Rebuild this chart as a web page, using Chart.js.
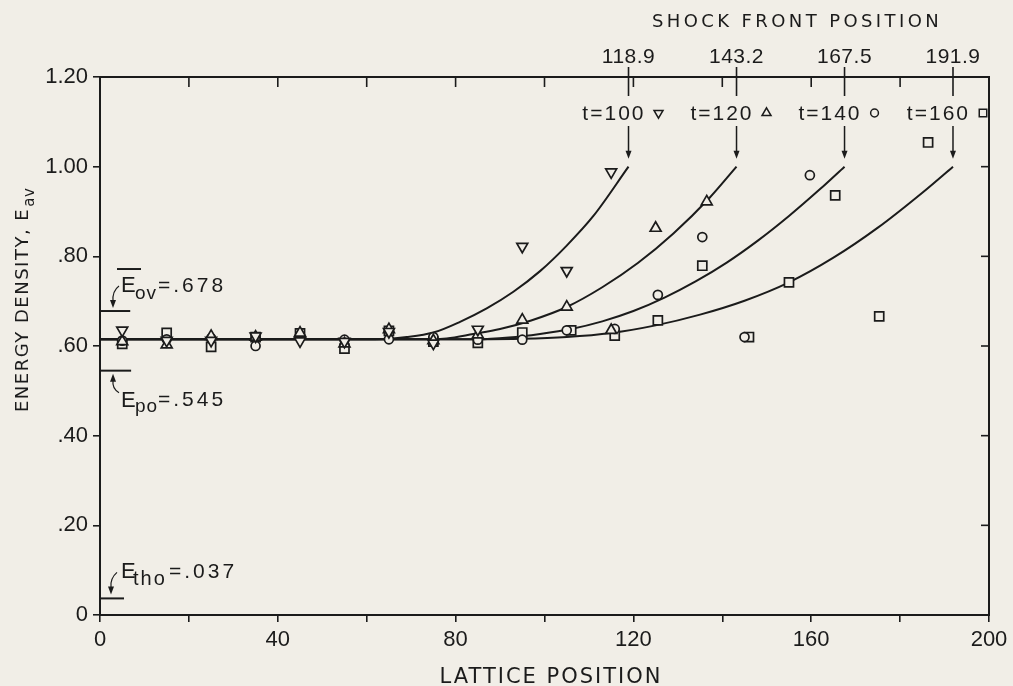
<!DOCTYPE html>
<html>
<head>
<meta charset="utf-8">
<script src="https://cdn.jsdelivr.net/npm/chart.js@4.4.1/dist/chart.umd.min.js"></script>
<style>
html,body{margin:0;padding:0;background:#f1eee7;overflow:hidden;}
canvas{display:block;}
</style>
</head>
<body>
<canvas id="chart" width="1013" height="686"></canvas>
<script>
// ---------------- data ----------------
// t = 100 (inverted triangles)
const t100X = [5, 15, 25, 35, 45, 55, 65, 75, 85, 95, 105, 115];
const t100Y = [0.635, 0.612, 0.612, 0.622, 0.611, 0.610, 0.632, 0.606, 0.637, 0.822, 0.768, 0.988];
// t = 120 (triangles)
const t120X = [5, 15, 25, 35, 45, 55, 65, 75, 85, 95, 105, 115, 125, 136.5];
const t120Y = [0.610, 0.603, 0.622, 0.620, 0.629, 0.605, 0.637, 0.612, 0.625, 0.658, 0.687, 0.635, 0.863, 0.922];
// t = 140 (circles)
const t140X = [5, 15, 25, 35, 45, 55, 65, 75, 85, 95, 105, 115.8, 125.5, 135.5, 145, 159.7];
const t140Y = [0.612, 0.615, 0.617, 0.600, 0.623, 0.614, 0.615, 0.620, 0.614, 0.614, 0.635, 0.638, 0.714, 0.843, 0.620, 0.981];
// t = 160 (squares)
const t160X = [5, 15, 25, 35, 45, 55, 65, 75, 85, 95, 106, 115.8, 125.5, 135.5, 146, 155, 165.4, 175.3, 186.3];
const t160Y = [0.605, 0.629, 0.598, 0.620, 0.628, 0.594, 0.634, 0.610, 0.607, 0.630, 0.635, 0.623, 0.657, 0.779, 0.620, 0.742, 0.936, 0.666, 1.054];

// fitted curves
const curve100X = [0, 62, 69, 75, 81, 87, 93, 99, 105, 111, 118.9];
const curve100Y = [0.615, 0.615, 0.620, 0.630, 0.654, 0.684, 0.721, 0.767, 0.824, 0.890, 1.00];
const curve120X = [0, 70, 78, 84, 90, 97, 105, 113, 121, 129, 137, 143.2];
const curve120Y = [0.615, 0.615, 0.617, 0.627, 0.638, 0.657, 0.687, 0.731, 0.785, 0.851, 0.929, 1.00];
const curve140X = [0, 78, 85, 92, 99, 106, 113, 120, 127, 134, 141, 148, 155, 162, 167.5];
const curve140Y = [0.615, 0.615, 0.615, 0.619, 0.627, 0.638, 0.655, 0.678, 0.708, 0.744, 0.786, 0.835, 0.890, 0.950, 1.00];
const curve160X = [0, 85, 95, 105, 115, 125, 135, 145, 155, 165, 175, 185, 191.9];
const curve160Y = [0.615, 0.615, 0.616, 0.620, 0.629, 0.646, 0.670, 0.701, 0.742, 0.797, 0.864, 0.942, 1.00];

const shockPositions = [118.9, 143.2, 167.5, 191.9];
const shockLabels = ['118.9', '143.2', '167.5', '191.9'];
const timeLabels = ['t=100', 't=120', 't=140', 't=160'];

const xTickValues = [0, 20, 40, 60, 80, 100, 120, 140, 160, 180, 200];
const xTickLabels = ['0', '', '40', '', '80', '', '120', '', '160', '', '200'];
const yTickValues = [0, 0.2, 0.4, 0.6, 0.8, 1.0, 1.2];
const yTickLabels = ['0', '.20', '.40', '.60', '.80', '1.00', '1.20'];

const refLevels = [0.678, 0.545, 0.037];
const refSubs = ['ov', 'po', 'tho'];
const refTexts = ['=.678', '=.545', '=.037'];

// ---------------- styling ----------------
const INK = '#1b1b1b';
const BG = '#f1eee7';
const NUM_FONT = 'Liberation Sans, Arial, sans-serif';
const CAP_FONT = 'DejaVu Sans, Verdana, sans-serif';

const pts = (xs, ys) => xs.map((v, i) => ({ x: v, y: ys[i] }));

function curveDs(xs, ys) {
  return {
    type: 'line', data: pts(xs, ys), showLine: true, borderColor: INK, borderWidth: 2,
    pointRadius: 0, cubicInterpolationMode: 'monotone', fill: false, order: 2
  };
}
function markerDs(label, xs, ys, style, radius, rot) {
  return {
    label, data: pts(xs, ys), showLine: false, pointStyle: style, pointRadius: radius,
    pointRotation: rot || 0, pointBorderColor: INK, pointBackgroundColor: BG,
    pointBorderWidth: 1.7, order: 1
  };
}

function drawMarker(ctx, style, x, y, r) {
  ctx.beginPath();
  if (style === 'tri' || style === 'itri') {
    const s = style === 'tri' ? -1 : 1;
    for (let k = 0; k < 3; k++) {
      const a = k * 2 * Math.PI / 3;
      const px = x + Math.sin(a) * r;
      const py = y + s * Math.cos(a) * r;
      if (k === 0) ctx.moveTo(px, py); else ctx.lineTo(px, py);
    }
    ctx.closePath();
  } else if (style === 'circ') {
    ctx.arc(x, y, r * 0.75, 0, Math.PI * 2);
  } else {
    const h = r * 0.72;
    ctx.rect(x - h, y - h, 2 * h, 2 * h);
  }
  ctx.fillStyle = BG; ctx.fill();
  ctx.lineWidth = 1.5; ctx.strokeStyle = INK; ctx.stroke();
}
function seg(ctx, x1, y1, x2, y2) { ctx.beginPath(); ctx.moveTo(x1, y1); ctx.lineTo(x2, y2); ctx.stroke(); }
function head(ctx, x, y, up) {
  const d = up ? 1 : -1;
  ctx.beginPath(); ctx.moveTo(x, y); ctx.lineTo(x - 3, y + d * 8); ctx.lineTo(x + 3, y + d * 8); ctx.closePath(); ctx.fill();
}
function txt(ctx, s, x, y, font, align, base, ls) {
  ctx.font = font; ctx.textAlign = align || 'left'; ctx.textBaseline = base || 'alphabetic';
  ctx.letterSpacing = ls || '0px'; ctx.fillText(s, x, y);
}

const annot = {
  id: 'annot',
  afterDraw(chart) {
    const { ctx, chartArea: a, scales } = chart;
    const X = v => scales.x.getPixelForValue(v);
    const Y = v => scales.y.getPixelForValue(v);
    ctx.save();
    ctx.strokeStyle = INK; ctx.fillStyle = INK; ctx.lineWidth = 2;
    // top & right frame
    seg(ctx, a.left - 1, a.top, a.right + 1, a.top);
    seg(ctx, a.right, a.top - 1, a.right, a.bottom + 1);
    // inner ticks top / right
    ctx.lineWidth = 1.6;
    xTickValues.forEach(v => { if (v > 0 && v < 200) seg(ctx, X(v), a.top, X(v), a.top + 10); });
    yTickValues.forEach(v => { if (v > 0 && v < 1.2) seg(ctx, a.right - 8, Y(v), a.right, Y(v)); });

    // shock front axis
    ctx.fillStyle = INK;
    txt(ctx, 'SHOCK FRONT POSITION', 797, 27, '18px ' + CAP_FONT, 'center', 'alphabetic', '3.4px');
    const markers = ['itri', 'tri', 'circ', 'sq'];
    shockPositions.forEach((p, i) => {
      const px = X(p);
      ctx.strokeStyle = INK; ctx.lineWidth = 1.6;
      seg(ctx, px, a.top - 10, px, a.top + 19);
      ctx.fillStyle = INK;
      txt(ctx, shockLabels[i], px, 57, '21px ' + NUM_FONT, 'center', 'middle', '0.5px');
      txt(ctx, timeLabels[i], px + 17, 114, '21px ' + NUM_FONT, 'right', 'middle', '2px');
      drawMarker(ctx, markers[i], px + 30, 113, 5.2);
      ctx.strokeStyle = INK; ctx.fillStyle = INK; ctx.lineWidth = 1.5;
      seg(ctx, px, 126, px, 152);
      head(ctx, px, Y(1.0) - 8, false);
    });

    // reference levels on left
    ctx.strokeStyle = INK; ctx.fillStyle = INK; ctx.lineWidth = 2;
    const refEnds = [6.8, 7.0, 5.4];
    refLevels.forEach((lv, i) => seg(ctx, a.left, Y(lv), X(refEnds[i]), Y(lv)));

    // E_ov label
    const yOv = Y(0.678);
    txt(ctx, 'E', 121, yOv - 19, '22px ' + NUM_FONT);
    ctx.lineWidth = 2; seg(ctx, 117, yOv - 42, 141, yOv - 42);
    txt(ctx, refSubs[0], 135, yOv - 12, '19px ' + NUM_FONT, 'left', 'alphabetic', '1px');
    txt(ctx, refTexts[0], 158, yOv - 19, '21px ' + NUM_FONT, 'left', 'alphabetic', '3px');
    ctx.lineWidth = 1.2;
    ctx.beginPath(); ctx.moveTo(119, yOv - 25); ctx.quadraticCurveTo(112, yOv - 20, 113, yOv - 9); ctx.stroke();
    head(ctx, 113, yOv - 3, false);

    // E_po label
    const yPo = Y(0.545);
    txt(ctx, 'E', 121, yPo + 36, '22px ' + NUM_FONT);
    txt(ctx, refSubs[1], 135, yPo + 41, '19px ' + NUM_FONT, 'left', 'alphabetic', '1px');
    txt(ctx, refTexts[1], 158, yPo + 35, '21px ' + NUM_FONT, 'left', 'alphabetic', '3px');
    ctx.lineWidth = 1.2;
    ctx.beginPath(); ctx.moveTo(119, yPo + 22); ctx.quadraticCurveTo(112, yPo + 18, 113, yPo + 10); ctx.stroke();
    head(ctx, 113, yPo + 3, true);

    // E_tho label
    const yTh = Y(0.037);
    txt(ctx, 'E', 121, yTh - 20, '22px ' + NUM_FONT);
    txt(ctx, refSubs[2], 133, yTh - 13, '20px ' + NUM_FONT, 'left', 'alphabetic', '2px');
    txt(ctx, refTexts[2], 169, yTh - 20, '21px ' + NUM_FONT, 'left', 'alphabetic', '3px');
    ctx.lineWidth = 1.2;
    ctx.beginPath(); ctx.moveTo(117, yTh - 26); ctx.quadraticCurveTo(110, yTh - 20, 111, yTh - 11); ctx.stroke();
    head(ctx, 111, yTh - 4, false);

    // axis titles
    txt(ctx, 'LATTICE POSITION', 551, 683, '21px ' + CAP_FONT, 'center', 'alphabetic', '2px');
    ctx.save();
    ctx.translate(28, 412);
    ctx.rotate(-Math.PI / 2);
    txt(ctx, 'ENERGY DENSITY, E', 0, 0, '18px ' + CAP_FONT, 'left', 'alphabetic', '1.5px');
    const w = ctx.measureText('ENERGY DENSITY, E').width;
    txt(ctx, 'av', w + 1, 6, '15px ' + CAP_FONT, 'left', 'alphabetic', '0.5px');
    ctx.restore();

    ctx.restore();
  }
};

new Chart(document.getElementById('chart'), {
  type: 'scatter',
  data: {
    datasets: [
      markerDs('t=100', t100X, t100Y, 'triangle', 6.3, 180),
      markerDs('t=120', t120X, t120Y, 'triangle', 6.3, 0),
      markerDs('t=140', t140X, t140Y, 'circle', 4.5, 0),
      markerDs('t=160', t160X, t160Y, 'rect', 6.4, 0),
      curveDs(curve100X, curve100Y),
      curveDs(curve120X, curve120Y),
      curveDs(curve140X, curve140Y),
      curveDs(curve160X, curve160Y)
    ]
  },
  options: {
    responsive: false, animation: false, devicePixelRatio: 1,
    layout: { padding: { left: 0, top: 77, right: 24, bottom: 0 } },
    plugins: { legend: { display: false }, tooltip: { enabled: false } },
    scales: {
      x: {
        type: 'linear', min: 0, max: 200,
        afterBuildTicks: s => { s.ticks = xTickValues.map(v => ({ value: v })); },
        afterFit: s => { s.height = 71; },
        ticks: {
          autoSkip: false, maxRotation: 0, color: INK, padding: 5,
          font: { family: NUM_FONT, size: 22 },
          callback: v => { const i = xTickValues.indexOf(v); return i >= 0 ? xTickLabels[i] : ''; }
        },
        grid: { drawOnChartArea: false, drawTicks: true, tickLength: 7, color: INK, lineWidth: 1.6 },
        border: { display: true, color: INK, width: 2 }
      },
      y: {
        type: 'linear', min: 0, max: 1.2,
        afterBuildTicks: s => { s.ticks = yTickValues.map(v => ({ value: v })); },
        afterFit: s => { s.width = 100; },
        ticks: {
          autoSkip: false, color: INK, padding: 5,
          font: { family: NUM_FONT, size: 22 },
          callback: v => { const i = yTickValues.findIndex(t => Math.abs(t - v) < 1e-6); return i >= 0 ? yTickLabels[i] : ''; }
        },
        grid: { drawOnChartArea: false, drawTicks: true, tickLength: 7, color: INK, lineWidth: 1.6 },
        border: { display: true, color: INK, width: 2 }
      }
    }
  },
  plugins: [annot]
});
</script>
</body>
</html>
